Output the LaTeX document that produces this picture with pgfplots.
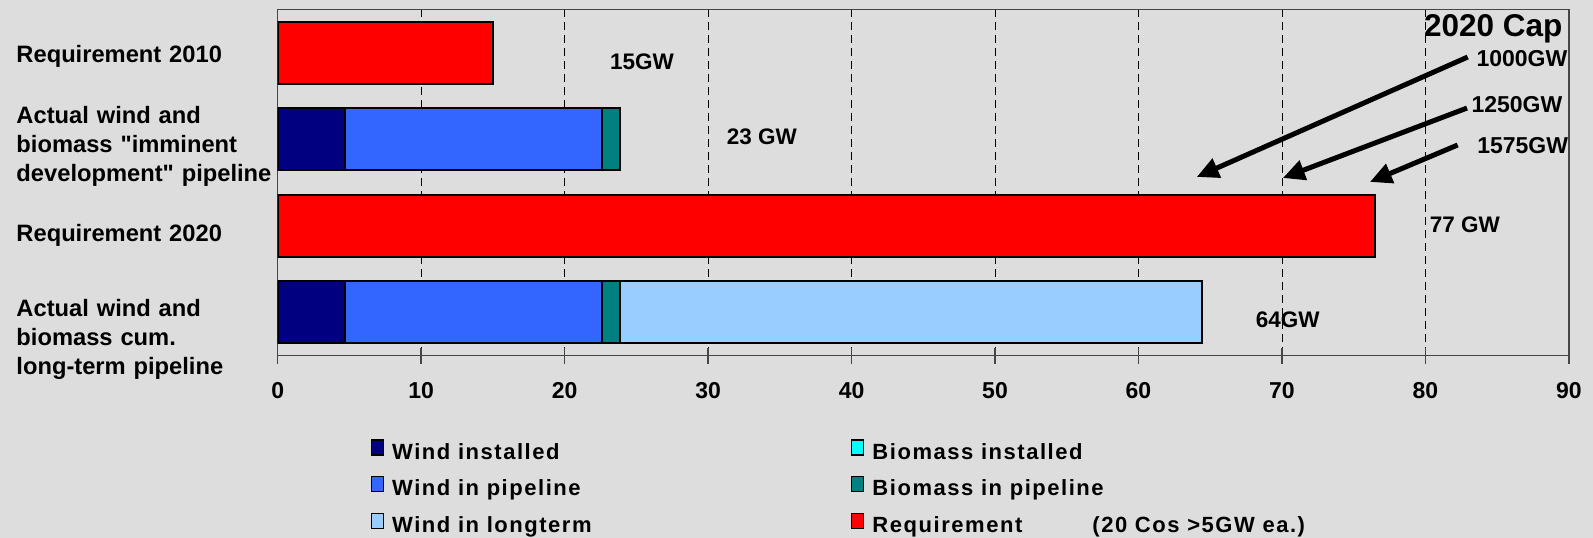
\documentclass[border=0pt]{standalone}
\usepackage{fontspec}
\setmainfont{Liberation Sans}
\newfontfamily\legendfont[LetterSpace=7]{Liberation Sans}
\usepackage{pgfplots}
\usepackage{pgfplotstable}
\pgfplotsset{compat=1.18}
\usetikzlibrary{arrows.meta}

\definecolor{bg}{RGB}{221,221,221}
\definecolor{windinst}{RGB}{0,0,128}
\definecolor{windpipe}{RGB}{51,102,255}
\definecolor{bioinst}{RGB}{0,255,255}
\definecolor{biopipe}{RGB}{0,128,128}
\definecolor{windlong}{RGB}{153,204,255}
\definecolor{req}{RGB}{255,0,0}
\definecolor{axisgray}{RGB}{70,70,70}

% capacity in GW per row (row 0 = top bar)
\pgfplotstableread{
idx  wi   wp    bi   bp    wl     rq
0    0    0     0    0     0      15
1    4.7  17.9  0    1.25  0      0
2    0    0     0    0     0      76.5
3    4.7  17.9  0    1.25  40.55  0
}\capacity

\newcommand{\catfont}{\fontsize{23.7}{29}\selectfont\bfseries}
\newcommand{\lbl}{\fontsize{22.5}{29}\selectfont\bfseries}
\newcommand{\capfont}{\fontsize{23}{23}\selectfont\bfseries}

\begin{document}
\begin{tikzpicture}
\useasboundingbox[fill=bg] (0pt,0pt) rectangle (1593pt,538pt);
\begin{axis}[
  at={(277.7pt,182.3pt)}, anchor=south west,
  scale only axis, width=1291.3pt, height=346.4pt,
  xbar stacked, bar width=62pt,
  xmin=0, xmax=90, ymin=-0.5, ymax=3.5, y dir=reverse,
  xtick={0,10,...,90}, xtick pos=bottom,
  tick align=center, major tick length=16pt,
  xtick style={axisgray, line width=1.5pt},
  ytick={0.04,1.085,2.11,3.31},
  ytick style={draw=none, /pgfplots/major tick length=0pt},
  yticklabels={
    {Requirement 2010},
    {Actual wind and\\biomass \textquotedbl imminent\\development\textquotedbl\ pipeline},
    {Requirement 2020},
    {Actual wind and\\biomass cum.\\long-term pipeline}},
  yticklabel style={anchor=east, text width=259pt, align=left,
    inner sep=0pt, xshift=6pt, font=\catfont},
  xticklabel style={font=\fontsize{23}{23}\selectfont\bfseries, yshift=-15pt},
  /pgf/number format/assume math mode=true,
  xmajorgrids,
  grid style={black, line width=0.8pt, dash pattern=on 8pt off 5pt},
  axis line style={axisgray, line width=1.5pt},
  legend image code/.code={
    \draw[#1, draw=black, line width=1.3pt] (0pt,-1.5pt) rectangle (12pt,13.5pt);},
  legend columns=2,
  legend cell align=left,
  legend style={draw=none, fill=none, at={(0.072,-0.241)}, anchor=north west,
    inner sep=0pt, row sep=12pt, column sep=0pt,
    font=\legendfont\bfseries\fontsize{22}{22}\selectfont,
    nodes={inner sep=0pt, text height=16pt, text depth=5pt},
    /tikz/every odd column/.append style={column sep=8pt}},
]
\addplot[fill=windinst, draw=black, line width=2pt, forget plot] table[x=wi, y=idx] {\capacity};
\addplot[fill=windpipe, draw=black, line width=2pt, forget plot] table[x=wp, y=idx] {\capacity};
\addplot[fill=bioinst,  draw=black, line width=2pt, forget plot] table[x=bi, y=idx] {\capacity};
\addplot[fill=biopipe,  draw=black, line width=2pt, forget plot] table[x=bp, y=idx] {\capacity};
\addplot[fill=windlong, draw=black, line width=2pt, forget plot] table[x=wl, y=idx] {\capacity};
\addplot[fill=req,      draw=black, line width=2pt, forget plot] table[x=rq, y=idx] {\capacity};

\addlegendimage{fill=windinst}
\addlegendimage{fill=bioinst}
\addlegendimage{fill=windpipe}
\addlegendimage{fill=biopipe}
\addlegendimage{fill=windlong}
\addlegendimage{fill=req}
\legend{\makebox[459pt][l]{Wind installed}, Biomass installed,
        \makebox[459pt][l]{Wind in pipeline}, Biomass in pipeline,
        \makebox[459pt][l]{Wind in longterm},
        \makebox[220pt][l]{Requirement}(20 Cos >5GW ea.)}

% totals beside the bars
\node[anchor=west, inner sep=0pt, font=\lbl] at (axis cs:23.16,0.105) {15GW};
\node[anchor=west, inner sep=0pt, font=\lbl] at (axis cs:31.3,0.975) {23 GW};
\node[anchor=west, inner sep=0pt, font=\lbl] at (axis cs:80.3,1.99) {77 GW};
\node[anchor=west, inner sep=0pt, font=\lbl] at (axis cs:68.17,3.088) {64GW};

% 2020 capacity scenarios
\node[anchor=west, inner sep=0pt, font=\fontsize{31.5}{31.5}\selectfont\bfseries] at (axis cs:79.9,-0.275) {2020 Cap};
\node[anchor=west, inner sep=0pt, font=\capfont] at (axis cs:83.55,0.066) {1000GW};
\node[anchor=west, inner sep=0pt, font=\capfont] at (axis cs:83.2,0.605) {1250GW};
\node[anchor=west, inner sep=0pt, font=\capfont] at (axis cs:83.6,1.068) {1575GW};
\draw[line width=5pt, -{Triangle[length=22pt,width=20pt]}] (axis cs:82.95,0.051) -- (axis cs:64.06,1.436);
\draw[line width=5pt, -{Triangle[length=22pt,width=20pt]}] (axis cs:82.9,0.64) -- (axis cs:70.06,1.448);
\draw[line width=5pt, -{Triangle[length=22pt,width=20pt]}] (axis cs:82.25,1.067) -- (axis cs:76.13,1.494);
\end{axis}
\end{tikzpicture}
\end{document}
